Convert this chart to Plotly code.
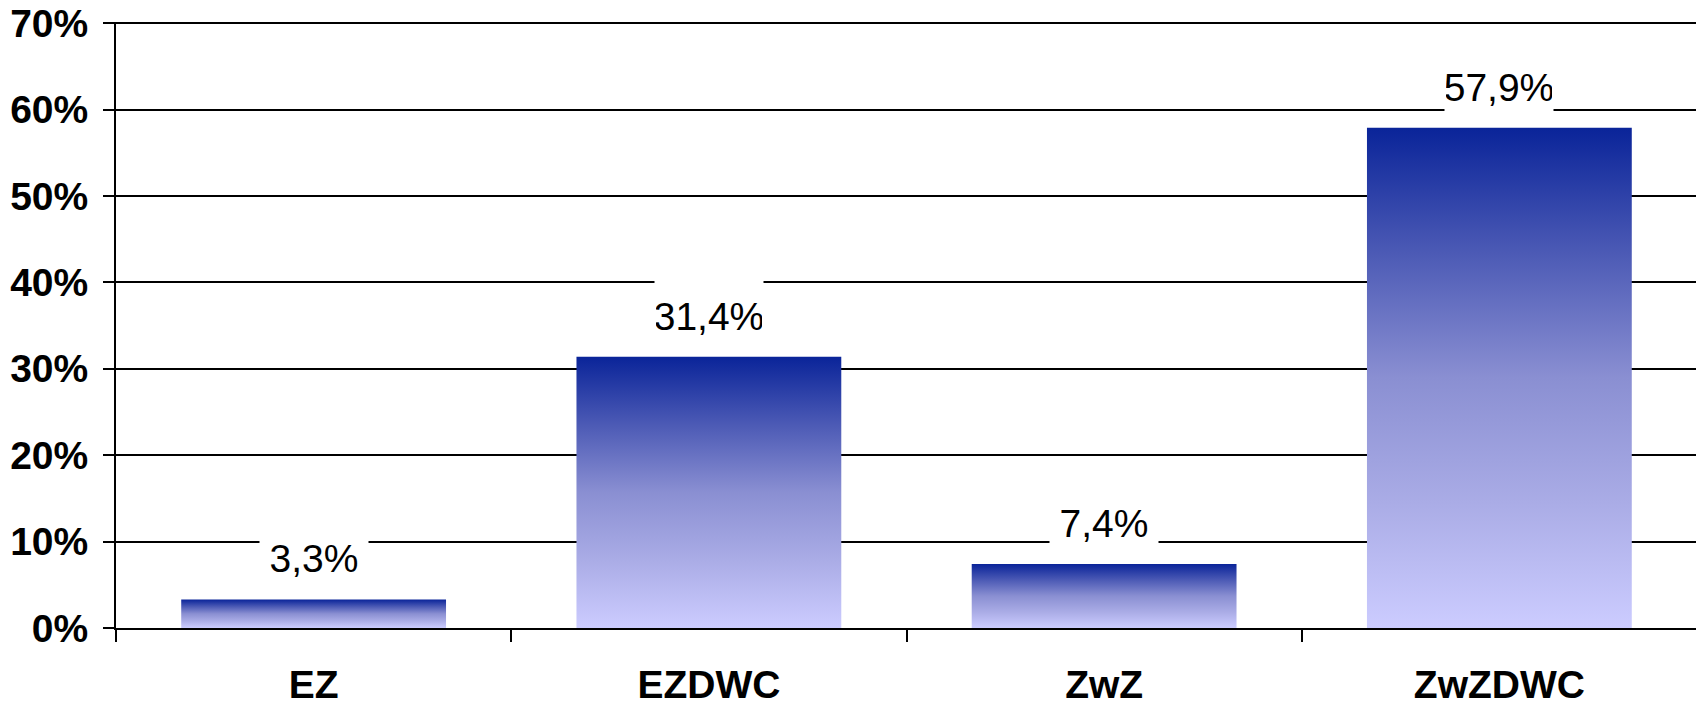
import plotly.graph_objects as go

# chart data
categories = ["EZ", "EZDWC", "ZwZ", "ZwZDWC"]
shares = [3.3, 31.4, 7.4, 57.9]          # percent
y_ticks = [0, 10, 20, 30, 40, 50, 60, 70]

BAR_W = 0.67
FONT = "Liberation Sans, Arial, sans-serif"
# light at the bottom of each bar, dark blue at the top
GRADIENT = [[0.0, "#ccccff"], [0.25, "#aaace6"], [0.5, "#8a8fd2"],
            [0.75, "#4c5ab5"], [1.0, "#0a2499"]]


def pct_label(v):
    return f"{v:.1f}".replace(".", ",") + "%"


fig = go.Figure()

for i, v in enumerate(shares):
    x0, x1 = i - BAR_W / 2, i + BAR_W / 2
    fig.add_trace(go.Scatter(
        x=[x0, x1, x1, x0, x0], y=[0, 0, v, v, 0],
        mode="lines", fill="toself", line=dict(width=0),
        fillgradient=dict(type="vertical", colorscale=GRADIENT, start=0, stop=v),
        hoverinfo="skip", showlegend=False,
    ))
    fig.add_annotation(
        x=i, y=v, yshift=41, text=pct_label(v), showarrow=False,
        font=dict(family=FONT, size=39, color="black"),
        bgcolor="white", width=106, height=76, yanchor="middle",
    )

# the page body has an 8px margin, so the figure is a bit smaller than the window
fig.update_layout(
    width=1696, height=697,
    margin=dict(l=108, r=7, t=14, b=77),
    paper_bgcolor="white", plot_bgcolor="white",
    showlegend=False,
)
fig.update_xaxes(
    range=[-0.5, len(categories) - 0.5],
    tickvals=list(range(len(categories))), ticktext=categories,
    ticks="", showgrid=False, zeroline=False, automargin=False,
    showline=True, linecolor="black", linewidth=2,
    tickfont=dict(family=FONT, size=39, color="black", weight="bold"),
    ticklabelstandoff=21, ticklabeloverflow="allow",
    minor=dict(tickvals=[k - 0.5 for k in range(len(categories) + 1)],
               ticks="outside", ticklen=12, tickwidth=2, tickcolor="black",
               showgrid=False),
)
# top slightly above 70 so the 70% gridline is not clipped at the edge
fig.update_yaxes(
    range=[0, 70.15], tickvals=y_ticks, ticktext=[f"{t}%" for t in y_ticks],
    ticks="outside", ticklen=11, tickwidth=2, tickcolor="black",
    showgrid=True, gridcolor="black", gridwidth=2, zeroline=False,
    showline=True, linecolor="black", linewidth=2, automargin=False,
    tickfont=dict(family=FONT, size=39, color="black", weight="bold"),
    ticklabelstandoff=7, ticklabeloverflow="allow",
)

fig.write_html("out.html")
